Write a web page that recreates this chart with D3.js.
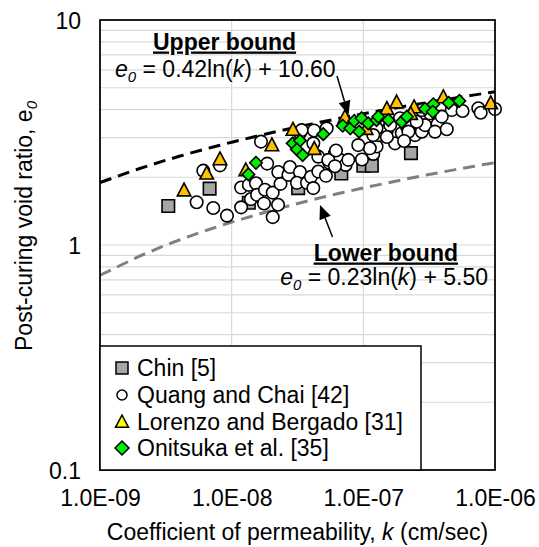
<!DOCTYPE html>
<html><head><meta charset="utf-8">
<script src="https://cdn.jsdelivr.net/npm/d3@7"></script>
<style>
body{margin:0;background:#fff}
svg{display:block;font-family:"Liberation Sans",Arial,Helvetica,sans-serif}
text{white-space:pre}
</style>
</head><body><svg id="chart" width="539" height="547"></svg>
<script>
// ---------- data ----------
const xTickValues = [1e-9, 1e-8, 1e-7, 1e-6];
const xTickLabels = ["1.0E-09", "1.0E-08", "1.0E-07", "1.0E-06"];
const yTickValues = [0.1, 1, 10];
const yTickLabels = ["0.1", "1", "10"];
const yGridValues = [0.2,0.3,0.4,0.5,0.6,0.7,0.8,0.9,1,2,3,4,5,6,7,8,9];
const xGridValues = [1e-8, 1e-7];

const seriesNames = ["Chin [5]", "Quang and Chai [42]", "Lorenzo and Bergado [31]", "Onitsuka et al. [35]"];

const chinK = [3.3e-9, 6.8e-9, 1.35e-8, 3.2e-8, 6.8e-8, 1.0e-7, 1.16e-7, 2.3e-7];
const chinE = [1.49, 1.78, 1.54, 1.79, 2.08, 2.25, 2.25, 2.56];

const quangK = [5.42e-9, 7.25e-9, 9.21e-9, 6.09e-9, 8.15e-9, 1.67e-8, 1.86e-8, 1.18e-8, 1.18e-8, 1.35e-8,
  1.53e-8, 1.40e-8, 1.56e-8, 1.79e-8, 1.76e-8, 2.05e-8, 2.25e-8, 2.05e-8, 2.26e-8, 2.35e-8,
  2.70e-8, 2.77e-8, 3.30e-8, 3.30e-8, 3.13e-8, 3.73e-8, 4.00e-8, 4.17e-8, 4.55e-8, 5.20e-8,
  5.51e-8, 6.09e-8, 6.65e-8, 7.34e-8, 9.76e-8, 1.19e-7, 1.26e-7, 1.03e-7, 3.40e-8, 4.22e-8,
  5.27e-8, 4.17e-8, 4.55e-8, 5.42e-8, 6.20e-8, 7.69e-8, 6.09e-8, 1.12e-7, 1.30e-7, 1.74e-7,
  1.51e-7, 1.96e-7, 2.14e-7, 2.47e-7, 2.78e-7, 2.94e-7, 2.54e-7, 3.66e-7, 3.50e-7, 4.30e-7,
  4.69e-7, 5.67e-7, 3.94e-7, 7.47e-7, 7.79e-7, 1.0e-6, 1.26e-7, 1.60e-7, 1.90e-7, 2.20e-7,
  3.21e-7, 2.78e-7, 9.15e-8, 1.19e-7, 1.51e-7, 2.04e-7];
const quangE = [1.55, 1.46, 1.35, 2.14, 2.26, 2.88, 2.30, 1.80, 1.47, 1.85,
  1.88, 1.60, 1.67, 1.76, 1.53, 1.71, 1.51, 1.33, 2.11, 1.87,
  2.05, 2.22, 2.11, 3.15, 1.89, 1.89, 2.01, 1.79, 2.12, 2.03,
  2.32, 2.56, 2.39, 2.27, 2.40, 2.54, 2.74, 2.97, 3.24, 3.23,
  3.30, 2.83, 2.47, 2.39, 2.63, 2.39, 2.24, 2.69, 3.08, 2.83,
  3.24, 3.14, 3.36, 3.08, 3.19, 3.41, 3.53, 3.45, 3.19, 3.27,
  3.98, 3.94, 3.72, 4.05, 3.87, 4.02, 3.30, 3.41, 3.66, 3.19,
  3.85, 3.98, 2.78, 3.08, 3.02, 2.90];

const lorenzoK = [4.35e-9, 6.46e-9, 8.15e-9, 1.28e-8, 2.02e-8, 2.92e-8, 4.24e-8, 7.25e-8, 1.05e-7, 1.51e-7,
  1.79e-7, 2.43e-7, 2.29e-7, 4.05e-7, 9.28e-7];
const lorenzoE = [1.76, 2.09, 2.42, 2.16, 2.79, 3.27, 2.69, 3.72, 3.30, 4.05,
  4.33, 4.12, 3.85, 4.56, 4.29];

const onitsukaK = [1.53e-8, 1.34e-8, 2.91e-8, 3.30e-8, 3.13e-8, 3.46e-8, 4.96e-8, 6.97e-8, 7.96e-8, 8.53e-8,
  9.3e-8, 9.71e-8, 1.09e-7, 1.26e-7, 1.30e-7, 1.55e-7, 1.96e-7, 2.14e-7, 2.94e-7, 3.40e-7,
  3.37e-7, 4.45e-7, 5.36e-7];
const onitsukaE = [2.32, 2.06, 2.83, 2.91, 2.66, 2.51, 3.11, 3.39, 3.30, 3.56,
  3.19, 3.66, 3.47, 3.59, 3.72, 3.59, 3.53, 3.72, 4.03, 4.22,
  3.91, 4.28, 4.37];

// bound equations e0 = a ln(k) + b
const upperA = 0.42, upperB = 10.60;
const lowerA = 0.23, lowerB = 5.50;

// ---------- chart ----------
const L = 100, R = 495, T = 20, B = 470;
const FONT = 23;
const svg = d3.select("#chart");
const x = d3.scaleLog().domain([1e-9, 1e-6]).range([L, R]);
const y = d3.scaleLog().domain([0.1, 10]).range([B, T]);

// gridlines
const grid = svg.append("g").attr("stroke", "#d9d9d9").attr("stroke-width", 1.2);
grid.selectAll("line.h").data(yGridValues).join("line")
  .attr("x1", L).attr("x2", R).attr("y1", d => y(d)).attr("y2", d => y(d));
grid.selectAll("line.v").data(xGridValues).join("line")
  .attr("y1", T).attr("y2", B).attr("x1", d => x(d)).attr("x2", d => x(d));

// bound curves
const kSample = x.ticks(40);
const lineGen = (a, b) => d3.line().x(k => x(k)).y(k => y(a * Math.log(k) + b));
svg.append("path").attr("d", lineGen(upperA, upperB)(kSample))
  .attr("fill", "none").attr("stroke", "#000").attr("stroke-width", 3).attr("stroke-dasharray", "12,7");
svg.append("path").attr("d", lineGen(lowerA, lowerB)(kSample))
  .attr("fill", "none").attr("stroke", "#808080").attr("stroke-width", 3).attr("stroke-dasharray", "12,7");

// marker shapes
function shapePath(type, s) {
  const h = s / 2;
  if (type === "square") return `M${-h},${-h}H${h}V${h}H${-h}Z`;
  if (type === "triangle") return `M0,${-h}L${h},${h * 0.9}L${-h},${h * 0.9}Z`;
  if (type === "diamond") return `M0,${-h}L${h},0L0,${h}L${-h},0Z`;
  return d3.symbol(d3.symbolCircle, Math.PI * h * h)();
}
const series = [
  {k: chinK, e: chinE, type: "square", size: 12.5, fill: "#a6a6a6", lsize: 12, lfill: "#a6a6a6"},
  {k: quangK, e: quangE, type: "circle", size: 12.5, fill: "#ffffff", lsize: 10, lfill: "#ffffff"},
  {k: lorenzoK, e: lorenzoE, type: "triangle", size: 13.5, fill: "#ffc000", lsize: 13, lfill: "#ffff00"},
  {k: onitsukaK, e: onitsukaE, type: "diamond", size: 12.5, fill: "#00ee00", lsize: 14, lfill: "#00ee00"}
];
series.forEach(s => {
  svg.append("g").selectAll("path").data(d3.zip(s.k, s.e)).join("path")
    .attr("d", shapePath(s.type, s.size))
    .attr("transform", d => `translate(${x(d[0])},${y(d[1])})`)
    .attr("fill", s.fill).attr("stroke", "#000").attr("stroke-width", 1.6);
});

// plot frame
svg.append("rect").attr("x", L).attr("y", T).attr("width", R - L).attr("height", B - T)
  .attr("fill", "none").attr("stroke", "#000").attr("stroke-width", 1.75);

// axes (labels only)
const xAxis = d3.axisBottom(x).tickValues(xTickValues).tickSize(0).tickPadding(0)
  .tickFormat((d, i) => xTickLabels[i]);
const gx = svg.append("g").attr("transform", `translate(0,${B})`).call(xAxis);
gx.select(".domain").remove();
gx.selectAll("text").attr("font-size", FONT).attr("font-family", null).attr("fill", "#000")
  .attr("dy", null).attr("y", 36);
const yAxis = d3.axisLeft(y).tickValues(yTickValues).tickSize(0).tickPadding(0)
  .tickFormat((d, i) => yTickLabels[i]);
const gy = svg.append("g").attr("transform", `translate(81,0)`).call(yAxis);
gy.select(".domain").remove();
gy.selectAll("text").attr("font-size", FONT).attr("font-family", null).attr("fill", "#000")
  .attr("dy", null).attr("x", 0).attr("y", 8);

// axis titles
const xt = svg.append("text").attr("x", (L + R) / 2).attr("y", 540).attr("text-anchor", "middle")
  .attr("font-size", FONT);
xt.append("tspan").text("Coefficient of permeability, ");
xt.append("tspan").attr("font-style", "italic").text("k");
xt.append("tspan").text(" (cm/sec)");

const yt = svg.append("text").attr("transform", "translate(32,226) rotate(-90)").attr("text-anchor", "middle")
  .attr("font-size", FONT);
yt.append("tspan").text("Post-curing void ratio, e");
yt.append("tspan").attr("font-size", 15).attr("font-style", "italic").attr("dy", 5).text("0");

// annotations
function equation(xp, yp, anchor, coefText) {
  const t = svg.append("text").attr("x", xp).attr("y", yp).attr("text-anchor", anchor).attr("font-size", FONT);
  t.append("tspan").attr("font-style", "italic").text("e");
  t.append("tspan").attr("font-style", "italic").attr("font-size", 15).attr("dy", 5).text("0");
  t.append("tspan").attr("dy", -5).text(" = " + coefText[0] + "ln(");
  t.append("tspan").attr("font-style", "italic").text("k");
  t.append("tspan").text(") + " + coefText[1]);
}
svg.append("text").attr("x", 153).attr("y", 49.5).attr("font-size", FONT).attr("font-weight", "bold")
  .attr("text-decoration", "underline").text("Upper bound");
equation(115, 77, "start", [upperA.toFixed(2), upperB.toFixed(2)]);
svg.append("text").attr("x", 458).attr("y", 260.5).attr("font-size", FONT).attr("font-weight", "bold")
  .attr("text-anchor", "end").attr("text-decoration", "underline").text("Lower bound");
equation(488, 285, "end", [lowerA.toFixed(2), lowerB.toFixed(2)]);

function arrow(x1, y1, x2, y2) {
  const dx = x2 - x1, dy = y2 - y1, len = Math.hypot(dx, dy);
  const ux = dx / len, uy = dy / len, hl = 14, hw = 6;
  const bx = x2 - ux * hl, by = y2 - uy * hl;
  svg.append("line").attr("x1", x1).attr("y1", y1).attr("x2", bx).attr("y2", by)
    .attr("stroke", "#000").attr("stroke-width", 1.5);
  svg.append("path").attr("d", `M${x2},${y2}L${bx - uy * hw},${by + ux * hw}L${bx + uy * hw},${by - ux * hw}Z`)
    .attr("fill", "#000");
}
arrow(337, 76, 348.5, 115);
arrow(332.5, 237, 320, 205);

// legend
const lg = svg.append("g");
lg.append("rect").attr("x", L).attr("y", 346).attr("width", 321).attr("height", B - 346)
  .attr("fill", "#fff").attr("stroke", "#000").attr("stroke-width", 1.5);
const rowY = [368, 395, 421.5, 448];
series.forEach((s, i) => {
  lg.append("path").attr("d", shapePath(s.type, s.lsize))
    .attr("transform", `translate(122,${rowY[i]})`)
    .attr("fill", s.lfill).attr("stroke", "#000").attr("stroke-width", 1.5);
  lg.append("text").attr("x", 137).attr("y", rowY[i] + 8).attr("font-size", FONT).text(seriesNames[i]);
});
</script></body></html>
